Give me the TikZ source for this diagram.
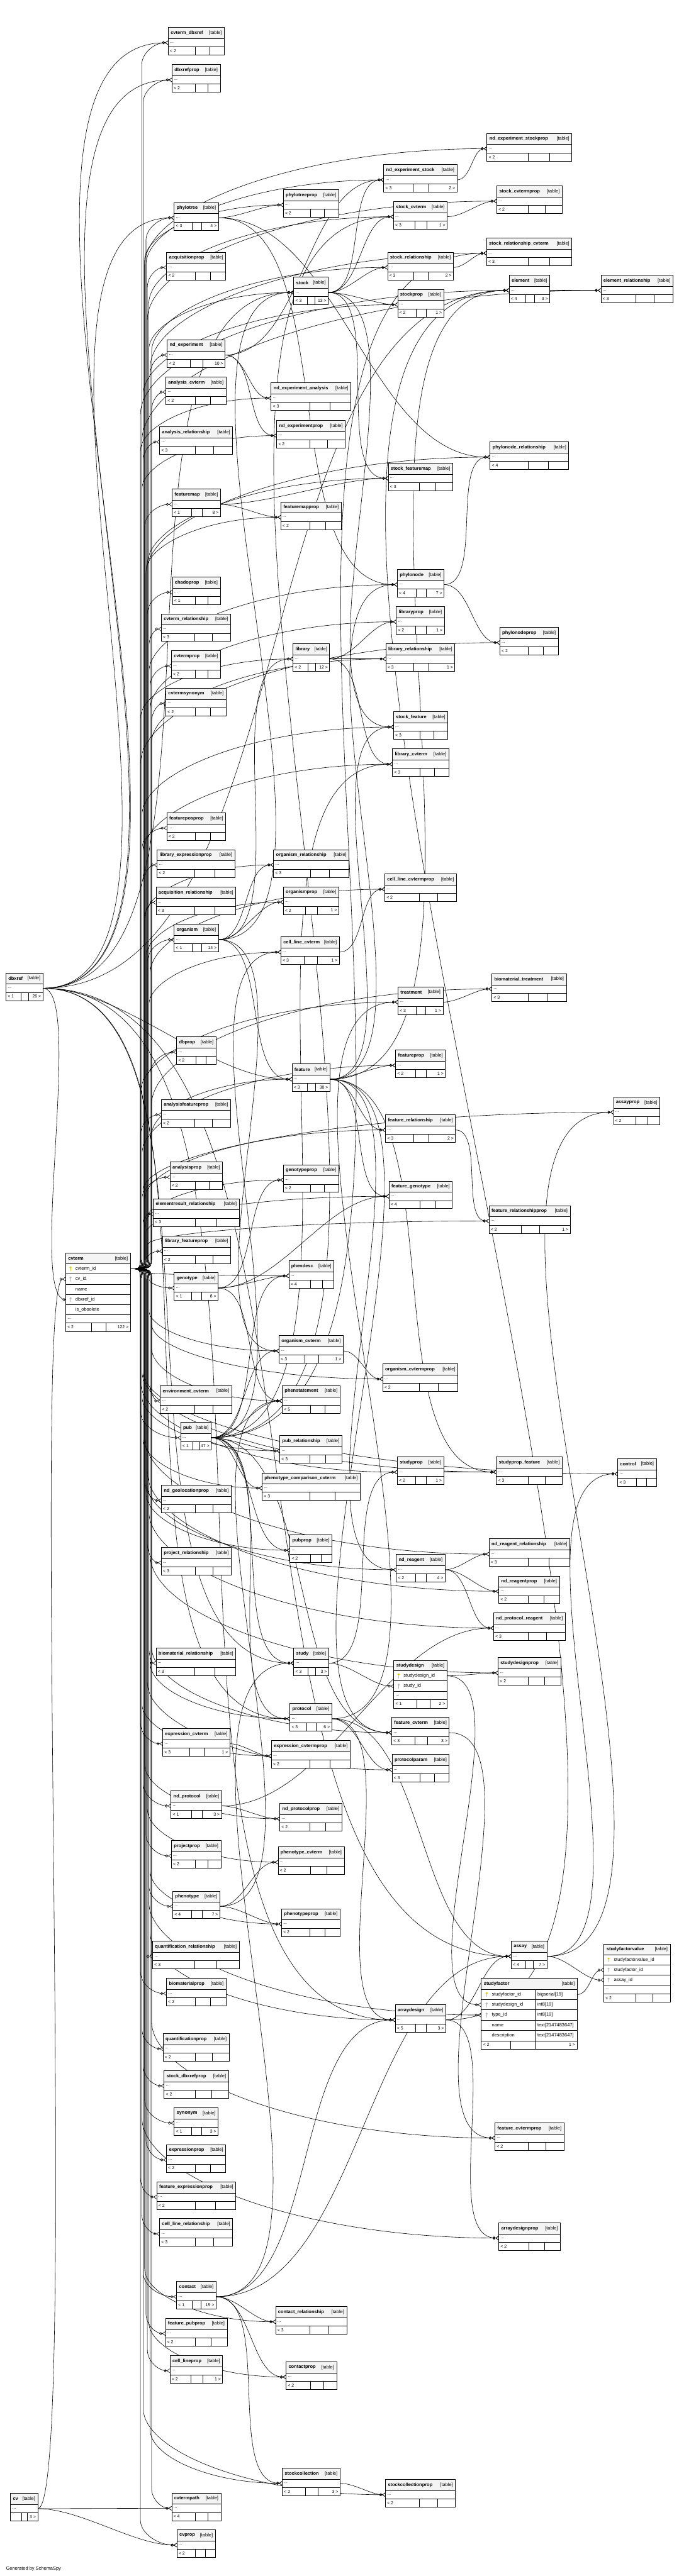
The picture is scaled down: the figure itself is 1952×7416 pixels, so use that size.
\documentclass[tikz,border=0pt]{standalone}
\usepackage{fontspec}
\setmainfont{Liberation Sans}
\usetikzlibrary{arrows.meta,calc}
\pgfdeclarelayer{edges}
\pgfsetlayers{edges,main}
\definecolor{hdrgray}{HTML}{F4F4F4}
\definecolor{pkcol}{HTML}{D8CC10}
\definecolor{fkcol}{HTML}{B4B4B4}

% collapsed table: name, x, y, width, parents, children
\newcommand{\dbtable}[6]{%
  \ifx\relax#6\relax\def\cutA{.485}\def\cutB{.74}\else\def\cutA{.40}\def\cutB{.62}\fi
  \node[tblbox, minimum width=#4pt] (#1) at (#2,#3) {};
  \fill[hdrfill] (#1.north west) rectangle ([yshift=-32pt]#1.north east);
  \draw[tblline] ([yshift=-32pt]#1.north west) -- ([yshift=-32pt]#1.north east)
    ([yshift=-56pt]#1.north west) -- ([yshift=-56pt]#1.north east)
    ($(#1.south west)!\cutA!(#1.south east)$) -- ++(0pt,23pt)
    ($(#1.south west)!\cutB!(#1.south east)$) -- ++(0pt,23pt);
  \draw[tblline] (#1.north west) rectangle (#1.south east);
  \node[ttl] at ([shift={(7pt,-16pt)}]#1.north west) {\detokenize{#1}};
  \node[tag] at ([shift={(-7pt,-16pt)}]#1.north east) {[table]};
  \node[cell, anchor=west] at ([shift={(5pt,-44pt)}]#1.north west) {...};
  \node[cell, anchor=west] at ([shift={(5pt,11.5pt)}]#1.south west) {\ifx\relax#5\relax\else< #5\fi};
  \node[cell, anchor=east] at ([shift={(-5pt,11.5pt)}]#1.south east) {\ifx\relax#6\relax\else#6 >\fi};
  \coordinate (#1-i) at ([yshift=-44pt]#1.north west);
  \coordinate (#1-o) at ([yshift=-44pt]#1.north east);
}
% key glyph: colour, x, y
\newcommand{\keyicon}[3]{%
  \fill[#1] (#2,#3-4) circle (3.2pt);
  \draw[#1, line width=1.6pt] (#2,#3-2) -- (#2,#3+7);
}
% foreign key between two anchors, and from parent to child table
\newcommand{\fkline}[3][1]{\draw[fk] let \p1=(#2), \p2=(#3),
  \n1={#1*(0.22*abs(\y2-\y1)+0.25*abs(\x2-\x1))} in
  (\p1) .. controls +(\n1*1pt,0pt) and +(-\n1*1pt,0pt) .. (\p2);}
\newcommand{\fk}[2]{\fkline{#1-o}{#2-i}}

\begin{document}
\begin{tikzpicture}[x=1pt, y=-1pt,
  tblbox/.style={anchor=north west, fill=white, inner sep=0pt, minimum height=79pt},
  tblline/.style={line width=1.2pt},
  hdrfill/.style={fill=hdrgray},
  ttl/.style={anchor=west, inner sep=0pt, font=\fontsize{13.5}{16}\selectfont\bfseries},
  tag/.style={anchor=east, inner sep=0pt, font=\fontsize{13.5}{16}\selectfont},
  cell/.style={inner sep=0pt, font=\fontsize{12.5}{15}\selectfont},
  col/.style={anchor=west, inner sep=0pt, font=\fontsize{13.5}{16}\selectfont},
  fk/.style={line width=1.1pt, -{Circle[open,length=8pt,width=8pt]Straight Barb[reversed,length=8pt,width=11pt]}},
  fkone/.style={line width=1.1pt, -{Circle[open,length=8pt,width=8pt]Bar[width=11pt]}}]
\useasboundingbox (0,0) rectangle (1952,7416);

% first column
\dbtable{dbxref}{17}{2801}{106}{1}{26}
\dbtable{cv}{30}{7178}{78}{}{3}

% cvterm, shown with its columns
\node[tblbox, minimum width=186pt, minimum height=225pt] (cvterm) at (189,3608) {};
\fill[hdrfill] (cvterm.north west) rectangle ([yshift=-30pt]cvterm.north east);
\foreach \r in {30,59.5,89,118.5,148,177.5,201}
  \draw[tblline] ([yshift=-\r pt]cvterm.north west) -- ([yshift=-\r pt]cvterm.north east);
\draw[tblline] (264,3809) -- (264,3833) (305,3809) -- (305,3833);
\draw[tblline] (cvterm.north west) rectangle (cvterm.south east);
\node[ttl] at (196,3623) {cvterm};
\node[tag] at (368,3623) {[table]};
\foreach \t/\r in {cvterm\_id/3652.75, cv\_id/3682.25, name/3711.75, dbxref\_id/3741.25, is\_obsolete/3770.75}
  \node[col] at (217,\r) {\t};
\keyicon{pkcol}{203}{3652.75}
\keyicon{fkcol}{203}{3682.25}
\keyicon{fkcol}{203}{3741.25}
\node[cell, anchor=west] at (194,3797.5) {...};
\node[cell, anchor=west] at (194,3821) {< 2};
\node[cell, anchor=east] at (370,3821) {122 >};
\coordinate (cvterm-o) at (375,3652.75);
\coordinate (cvterm-cv) at (189,3682.25);
\coordinate (cvterm-dx) at (189,3741.25);

% second column
\dbtable{cvterm_dbxref}{484}{79}{161}{2}{}
\dbtable{dbxrefprop}{495}{186}{138}{2}{}
\dbtable{phylotree}{501}{583}{127}{3}{4}
\dbtable{acquisitionprop}{479}{726}{170}{2}{}
\dbtable{nd_experiment}{481}{978}{166}{2}{10}
\dbtable{analysis_cvterm}{477}{1085}{173}{2}{}
\dbtable{analysis_relationship}{459}{1228}{210}{3}{}
\dbtable{featuremap}{495}{1408}{139}{1}{8}
\dbtable{chadoprop}{496}{1661}{137}{1}{}
\dbtable{cvterm_relationship}{464}{1767}{199}{3}{}
\dbtable{cvtermprop}{493}{1873}{141}{2}{}
\dbtable{cvtermsynonym}{477}{1981}{173}{2}{}
\dbtable{featureposprop}{480}{2340}{169}{2}{}
\dbtable{library_expressionprop}{452}{2446}{223}{2}{}
\dbtable{acquisition_relationship}{449}{2554}{229}{3}{}
\dbtable{organism}{501}{2661}{127}{1}{14}
\dbtable{dbprop}{508}{2985}{113}{2}{}
\dbtable{analysisfeatureprop}{464}{3165}{199}{2}{}
\dbtable{analysisprop}{489}{3345}{151}{2}{}
\dbtable{elementresult_relationship}{441}{3451}{247}{3}{}
\dbtable{library_featureprop}{467}{3558}{196}{2}{}
\dbtable{genotype}{501}{3664}{126}{1}{8}
\dbtable{environment_cvterm}{461}{3989}{205}{2}{}
\dbtable{pub}{520}{4095}{87}{1}{47}
\dbtable{nd_geolocationprop}{464}{4276}{201}{2}{}
\dbtable{project_relationship}{464}{4455}{201}{3}{}
\dbtable{biomaterial_relationship}{449}{4744}{229}{3}{}
\dbtable{expression_cvterm}{468}{4976}{193}{3}{1}
\dbtable{nd_protocol}{492}{5155}{145}{1}{3}
\dbtable{projectprop}{493}{5299}{142}{2}{}
\dbtable{phenotype}{497}{5444}{135}{4}{7}
\dbtable{quantification_relationship}{439}{5588}{249}{3}{}
\dbtable{biomaterialprop}{479}{5695}{171}{2}{}
\dbtable{quantificationprop}{469}{5854}{190}{2}{}
\dbtable{stock_dbxrefprop}{472}{5961}{185}{2}{}
\dbtable{synonym}{501}{6068}{126}{1}{3}
\dbtable{expressionprop}{479}{6174}{170}{2}{}
\dbtable{feature_expressionprop}{451}{6281}{227}{2}{}
\dbtable{cell_line_relationship}{459}{6387}{210}{3}{}
\dbtable{contact}{508}{6568}{113}{1}{15}
\dbtable{feature_pubprop}{476}{6674}{177}{2}{}
\dbtable{cell_lineprop}{489}{6781}{151}{2}{1}
\dbtable{cvtermpath}{494}{7177}{141}{4}{}
\dbtable{cvprop}{509}{7283}{110}{2}{}

% third column
\dbtable{phylotreeprop}{815}{546}{159}{2}{}
\dbtable{stock}{845}{798}{99}{3}{13}
\dbtable{nd_experiment_analysis}{780}{1102}{229}{3}{}
\dbtable{nd_experimentprop}{796}{1210}{197}{2}{}
\dbtable{featuremapprop}{808}{1445}{173}{2}{}
\dbtable{library}{843}{1853}{105}{2}{12}
\dbtable{organism_relationship}{787}{2446}{217}{3}{}
\dbtable{organismprop}{815}{2553}{159}{2}{1}
\dbtable{cell_line_cvterm}{808}{2697}{168}{3}{1}
\dbtable{feature}{840}{3063}{109}{3}{30}
\dbtable{genotypeprop}{815}{3353}{159}{2}{}
\dbtable{phendesc}{831}{3629}{129}{4}{}
\dbtable{organism_cvterm}{803}{3845}{184}{3}{1}
\dbtable{phenstatement}{812}{3989}{166}{5}{}
\dbtable{pub_relationship}{805}{4133}{178}{3}{}
\dbtable{phenotype_comparison_cvterm}{754}{4240}{282}{3}{}
\dbtable{pubprop}{834}{4419}{121}{2}{}
\dbtable{study}{845}{4744}{100}{3}{3}
\dbtable{protocol}{834}{4904}{120}{3}{6}
\dbtable{expression_cvtermprop}{781}{5011}{226}{2}{}
\dbtable{nd_protocolprop}{805}{5192}{178}{2}{}
\dbtable{phenotype_cvterm}{800}{5317}{190}{2}{}
\dbtable{phenotypeprop}{810}{5495}{168}{2}{}
\dbtable{contact_relationship}{793}{6640}{204}{3}{}
\dbtable{contactprop}{823}{6799}{145}{2}{}
\dbtable{stockcollection}{812}{7105}{166}{2}{3}

% fourth column
\dbtable{nd_experiment_stock}{1104}{474}{210}{3}{2}
\dbtable{stock_cvterm}{1132}{580}{154}{3}{1}
\dbtable{stock_relationship}{1115}{726}{189}{3}{2}
\dbtable{stockprop}{1144}{833}{132}{2}{1}
\dbtable{stock_featuremap}{1117}{1333}{185}{3}{}
\dbtable{phylonode}{1143}{1639}{134}{4}{7}
\dbtable{libraryprop}{1140}{1746}{138}{2}{1}
\dbtable{library_relationship}{1110}{1853}{198}{3}{1}
\dbtable{stock_feature}{1132}{2049}{156}{3}{}
\dbtable{library_cvterm}{1129}{2156}{162}{3}{}
\dbtable{cell_line_cvtermprop}{1107}{2516}{206}{2}{}
\dbtable{treatment}{1145}{2841}{129}{3}{1}
\dbtable{featureprop}{1138}{3023}{143}{2}{1}
\dbtable{feature_relationship}{1109}{3209}{201}{3}{2}
\dbtable{feature_genotype}{1119}{3400}{182}{4}{}
\dbtable{organism_cvtermprop}{1101}{3926}{216}{2}{}
\dbtable{studyprop}{1143}{4194}{133}{2}{1}
\dbtable{nd_reagent}{1140}{4475}{140}{2}{4}
\dbtable{feature_cvterm}{1127}{4944}{165}{3}{3}
\dbtable{protocolparam}{1128}{5051}{164}{3}{}
\dbtable{arraydesign}{1137}{5771}{145}{5}{3}
\dbtable{stockcollectionprop}{1109}{7138}{201}{2}{}

% studydesign, shown with its columns
\node[tblbox, minimum width=153pt, minimum height=137pt] (studydesign) at (1133,4780) {};
\fill[hdrfill] (studydesign.north west) rectangle ([yshift=-30pt]studydesign.north east);
\foreach \r in {30,59,89,113}
  \draw[tblline] ([yshift=-\r pt]studydesign.north west) -- ([yshift=-\r pt]studydesign.north east);
\draw[tblline] (1200,4893) -- (1200,4917) (1237,4893) -- (1237,4917);
\draw[tblline] (studydesign.north west) rectangle (studydesign.south east);
\node[ttl] at (1140,4795) {studydesign};
\node[tag] at (1279,4795) {[table]};
\node[col] at (1161,4824.5) {studydesign\_id};
\node[col] at (1161,4854) {study\_id};
\keyicon{pkcol}{1147}{4824.5}
\keyicon{fkcol}{1147}{4854}
\node[cell, anchor=west] at (1138,4881) {...};
\node[cell, anchor=west] at (1138,4905) {< 1};
\node[cell, anchor=east] at (1281,4905) {2 >};
\coordinate (studydesign-o) at (1286,4824.5);
\coordinate (studydesign-i) at (1133,4854);

% fifth column
\dbtable{nd_experiment_stockprop}{1401}{384}{244}{2}{}
\dbtable{stock_cvtermprop}{1429}{535}{188}{2}{}
\dbtable{stock_relationship_cvterm}{1400}{685}{245}{3}{}
\dbtable{element}{1465}{792}{116}{4}{3}
\dbtable{phylonode_relationship}{1410}{1272}{226}{4}{}
\dbtable{phylonodeprop}{1438}{1806}{168}{2}{}
\dbtable{biomaterial_treatment}{1415}{2803}{214}{3}{}
\dbtable{feature_relationshipprop}{1407}{3471}{233}{2}{1}
\dbtable{studyprop_feature}{1428}{4194}{189}{3}{}
\dbtable{nd_reagent_relationship}{1407}{4430}{232}{3}{}
\dbtable{nd_reagentprop}{1435}{4537}{174}{2}{}
\dbtable{nd_protocol_reagent}{1420}{4643}{206}{3}{}
\dbtable{studydesignprop}{1433}{4772}{180}{2}{}
\dbtable{assay}{1471}{5588}{102}{4}{7}
\dbtable{feature_cvtermprop}{1424}{6111}{198}{2}{}
\dbtable{arraydesignprop}{1435}{6399}{177}{2}{}

% studyfactor, the table in focus
\node[tblbox, minimum width=277pt, minimum height=204pt] (studyfactor) at (1384,5695) {};
\fill[hdrfill] (studyfactor.north west) rectangle ([yshift=-32pt]studyfactor.north east);
\foreach \r in {32,62,91,121,150,180}
  \draw[tblline] ([yshift=-\r pt]studyfactor.north west) -- ([yshift=-\r pt]studyfactor.north east);
\draw[tblline] (1540,5727) -- (1540,5899) (1469,5875) -- (1469,5899);
\draw[line width=3pt] (studyfactor.north west) rectangle (studyfactor.south east);
\node[ttl] at (1392,5711) {studyfactor};
\node[tag] at (1654,5711) {[table]};
\foreach \t/\d/\r in {studyfactor\_id/bigserial[19]/5742, studydesign\_id/int8[19]/5771.5,
    type\_id/int8[19]/5801, name/text[2147483647]/5830.5, description/text[2147483647]/5860}{
  \node[col] at (1415,\r) {\t};
  \node[col] at (1546,\r) {\d};
}
\keyicon{pkcol}{1400}{5742}
\keyicon{fkcol}{1400}{5771.5}
\keyicon{fkcol}{1400}{5801}
\node[cell, anchor=west] at (1390,5887) {< 2};
\node[cell, anchor=east] at (1655,5887) {1 >};
\coordinate (studyfactor-o) at (1661,5742);
\coordinate (studyfactor-sd) at (1384,5771.5);
\coordinate (studyfactor-i) at (1384,5801);

% sixth column
\dbtable{element_relationship}{1729}{792}{207}{3}{}
\dbtable{assayprop}{1765}{3158}{133}{2}{}
\dbtable{control}{1777}{4199}{111}{3}{}

% studyfactorvalue, shown with its columns
\node[tblbox, minimum width=191pt, minimum height=166pt] (studyfactorvalue) at (1737,5597) {};
\fill[hdrfill] (studyfactorvalue.north west) rectangle ([yshift=-31pt]studyfactorvalue.north east);
\foreach \r in {31,60,89,118,143}
  \draw[tblline] ([yshift=-\r pt]studyfactorvalue.north west) -- ([yshift=-\r pt]studyfactorvalue.north east);
\draw[tblline] (1830,5740) -- (1830,5763) (1878,5740) -- (1878,5763);
\draw[tblline] (studyfactorvalue.north west) rectangle (studyfactorvalue.south east);
\node[ttl] at (1745,5612.5) {studyfactorvalue};
\node[tag] at (1921,5612.5) {[table]};
\node[col] at (1766,5642.5) {studyfactorvalue\_id};
\node[col] at (1766,5671.5) {studyfactor\_id};
\node[col] at (1766,5700.5) {assay\_id};
\keyicon{pkcol}{1751}{5642.5}
\keyicon{fkcol}{1751}{5671.5}
\keyicon{fkcol}{1751}{5700.5}
\node[cell, anchor=west] at (1742,5727.5) {...};
\node[cell, anchor=west] at (1742,5751.5) {< 2};
\coordinate (studyfactorvalue-i) at (1737,5671.5);
\coordinate (studyfactorvalue-as) at (1737,5700.5);

\node[col] (credit) at (17,7396) {Generated by SchemaSpy};

\begin{pgfonlayer}{edges}
\fill[white] (0,0) rectangle (1952,7416);
% cvterm fans out through one vertical bundle
\foreach \c [count=\k] in {cvterm_dbxref, dbxrefprop, phylotreeprop, phylotree, acquisitionprop, stock,
    nd_experiment, analysis_cvterm, nd_experiment_analysis, nd_experimentprop, analysis_relationship,
    nd_experiment_stockprop, nd_experiment_stock, stock_cvtermprop, stock_cvterm, stock_relationship_cvterm,
    stock_relationship, element, element_relationship, stockprop, featuremap, featuremapprop, chadoprop,
    cvterm_relationship, cvtermprop, cvtermsynonym, library, featureposprop, library_expressionprop,
    organism_relationship, phylonode_relationship, stock_featuremap, phylonode, libraryprop,
    library_relationship, phylonodeprop, stock_feature, library_cvterm, acquisition_relationship,
    organismprop, organism, cell_line_cvterm, dbprop, feature, analysisfeatureprop, analysisprop,
    genotypeprop, elementresult_relationship, library_featureprop, phendesc, genotype,
    cell_line_cvtermprop, biomaterial_treatment, treatment, featureprop, assayprop, feature_relationship,
    feature_genotype, feature_relationshipprop, organism_cvterm, environment_cvterm, phenstatement, pub,
    pub_relationship, phenotype_comparison_cvterm, nd_geolocationprop, pubprop, project_relationship,
    biomaterial_relationship, protocol, organism_cvtermprop, studyprop, studyprop_feature, control,
    nd_reagent_relationship, nd_reagent, nd_reagentprop, nd_protocol_reagent, studydesignprop,
    feature_cvterm, expression_cvterm, expression_cvtermprop, nd_protocol, nd_protocolprop, projectprop,
    phenotype_cvterm, phenotype, phenotypeprop, quantification_relationship, biomaterialprop,
    quantificationprop, stock_dbxrefprop, synonym, expressionprop, protocolparam, studyfactor, arraydesign,
    feature_cvtermprop, feature_expressionprop, cell_line_relationship, contact, contact_relationship,
    feature_pubprop, cell_lineprop, contactprop, stockcollection, cvtermpath, cvprop, arraydesignprop,
    stockcollectionprop}{
  \pgfmathtruncatemacro{\bx}{404+4*mod(\k,9)}
  \draw[fk] let \p0=(cvterm-o), \p1=(\c-i), \n1={sign(\y1-\y0)}, \n2={min(40,abs(\y1-\y0)/2)},
      \n3={min(40+0.3*max(\x1-\bx pt,0),abs(\y1-\y0)/2)} in
    (\p0) .. controls (\bx pt,\y0) .. (\bx pt,{\y0+\n1*\n2}) -- (\bx pt,{\y1-\n1*\n3})
    .. controls (\bx pt,{\y1-0.5*\n1*\n3}) and ({\bx pt+0.45*(\x1-\bx pt)},\y1) .. (\p1);
}
% dbxref and cv
\foreach \c in {cvterm_dbxref,dbxrefprop,phylotree,stock,feature,element,study,protocol,assay,arraydesign} {\fk{dbxref}{\c}}
\draw[fkone] (dbxref-o) .. controls +(120,0) and +(-110,0) .. (cvterm-dx);
\draw[fk] (cv-o) .. controls +(120,0) and +(-100,0) .. (cvterm-cv);
\fk{cv}{cvtermpath}
\fk{cv}{cvprop}
% the other parents
\foreach \c in {phylotreeprop,phylonode,phylonode_relationship} {\fk{phylotree}{\c}}
\foreach \c in {nd_experiment_stock,stock_cvterm,stock_relationship,stockprop,stock_featuremap,stock_feature} {\fk{stock}{\c}}
\foreach \c in {nd_experiment_analysis,nd_experimentprop,nd_experiment_stock} {\fk{nd_experiment}{\c}}
\fk{nd_experiment_stock}{nd_experiment_stockprop}
\fk{stock_cvterm}{stock_cvtermprop}
\fk{stock_relationship}{stock_relationship_cvterm}
\fk{element}{element_relationship}
\foreach \c in {featuremapprop,stock_featuremap} {\fk{featuremap}{\c}}
\foreach \c in {libraryprop,library_relationship,library_cvterm} {\fk{library}{\c}}
\foreach \c in {phylonode_relationship,phylonodeprop} {\fk{phylonode}{\c}}
\foreach \c in {organismprop,organism_relationship,organism_cvterm,stock,library,feature} {\fk{organism}{\c}}
\fk{cell_line_cvterm}{cell_line_cvtermprop}
\foreach \c in {element,stock_feature,featureprop,feature_relationship,feature_genotype,phylonode,studyprop_feature,nd_reagent,feature_cvterm} {\fk{feature}{\c}}
\foreach \c in {genotypeprop,phendesc,feature_genotype,phenstatement} {\fk{genotype}{\c}}
\fk{treatment}{biomaterial_treatment}
\fk{feature_relationship}{feature_relationshipprop}
\fk{organism_cvterm}{organism_cvtermprop}
\foreach \c in {stock_cvterm,stock_relationship_cvterm,library_cvterm,cell_line_cvterm,phendesc,organism_cvterm,phenstatement,pub_relationship,phenotype_comparison_cvterm,pubprop,study,protocol,feature_cvterm} {\fk{pub}{\c}}
\foreach \c in {studydesign,studyprop} {\fk{study}{\c}}
\foreach \c in {treatment,protocolparam,arraydesign,assay} {\fk{protocol}{\c}}
\fk{studyprop}{studyprop_feature}
\foreach \c in {nd_reagent_relationship,nd_reagentprop,nd_protocol_reagent} {\fk{nd_reagent}{\c}}
\fk{studydesign}{studydesignprop}
\fkline{studydesign-o}{studyfactor-sd}
\fk{feature_cvterm}{feature_cvtermprop}
\fk{expression_cvterm}{expression_cvtermprop}
\foreach \c in {nd_protocolprop,nd_protocol_reagent} {\fk{nd_protocol}{\c}}
\foreach \c in {phenotype_cvterm,phenotypeprop,phenstatement} {\fk{phenotype}{\c}}
\foreach \c in {assayprop,control} {\fk{assay}{\c}}
\fkline{assay-o}{studyfactorvalue-as}
\fk{studyfactor}{studyfactorvalue}
\foreach \c in {element,assay,arraydesignprop} {\fk{arraydesign}{\c}}
\foreach \c in {study,arraydesign,assay,contact_relationship,contactprop,stockcollection} {\fk{contact}{\c}}
\fk{stockcollection}{stockcollectionprop}
\end{pgfonlayer}
\end{tikzpicture}
\end{document}
